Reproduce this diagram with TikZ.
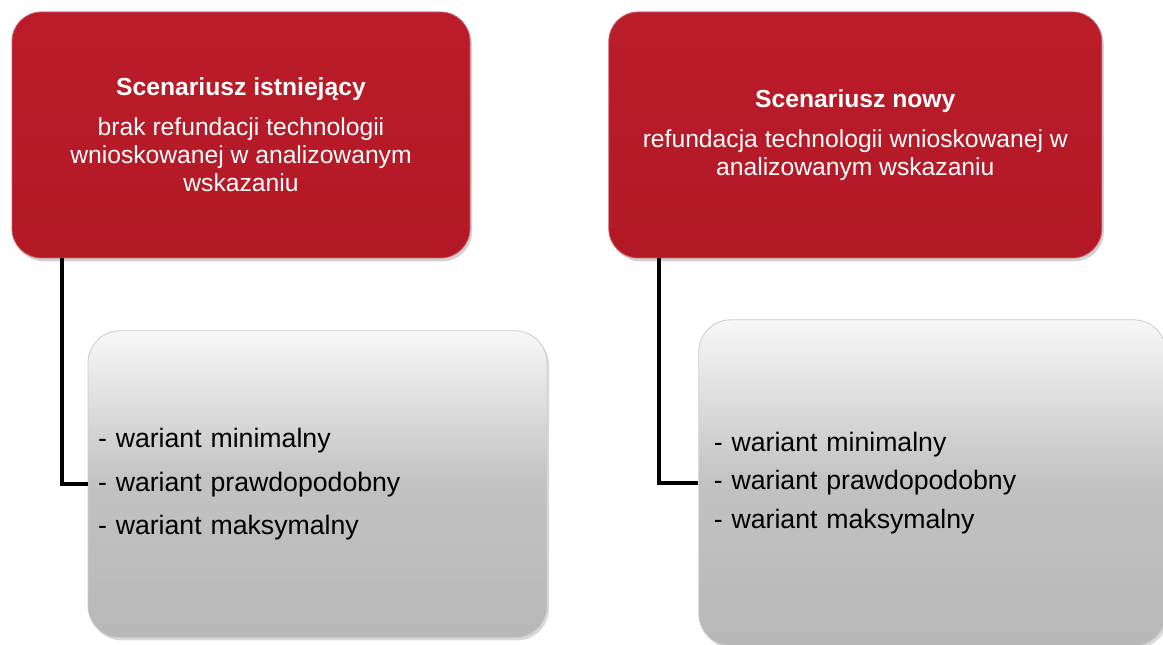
\documentclass[tikz,border=0pt]{standalone}
\usepackage{fontspec}
\setmainfont{Liberation Sans}
\usetikzlibrary{positioning, shadows}

\definecolor{scenred}{RGB}{179,24,37}
\definecolor{scenredtop}{RGB}{187,28,42}

\tikzset{
  scenbox/.style={rectangle, rounded corners=22pt, draw=scenred!70!white, line width=0.6pt,
    top color=scenredtop, bottom color=scenred, text=white, align=center,
    minimum height=184.5pt, inner sep=0pt,
    font=\fontsize{18.5}{21}\selectfont,
    drop shadow={opacity=0.35, shadow xshift=1.5pt, shadow yshift=-2.5pt}},
  varbox/.style={rectangle, rounded corners=24pt, draw=white!80!black, line width=0.6pt,
    top color=white!97!black, bottom color=white!72!black, middle color=white!76!black,
    align=left,
    drop shadow={opacity=0.3, shadow xshift=1.5pt, shadow yshift=-2pt}},
  link/.style={line width=3pt, black}
}

\begin{document}
\begin{tikzpicture}
      \useasboundingbox (0,0) rectangle (872.25pt,-483.75pt);

      \node[scenbox, minimum width=343.5pt] (EXIST) at (180.75pt,-101.25pt)
        {\textbf{Scenariusz istniejący}\\[9pt]brak refundacji technologii\\wnioskowanej w analizowanym\\wskazaniu};
      \node[scenbox, minimum width=369.75pt, right=103.5pt of EXIST] (NEW)
        {\textbf{Scenariusz nowy}\\[9pt]refundacja technologii wnioskowanej w\\analizowanym wskazaniu};

      \node[varbox, minimum height=230.25pt, inner xsep=7.5pt, text width=329.25pt,
        font=\fontsize{20}{32.5}\selectfont,
        below right=54pt and 57pt of EXIST.south west] (EXVAR)
        {- wariant minimalny\\- wariant prawdopodobny\\- wariant maksymalny};
      \node[varbox, minimum height=244.5pt, inner xsep=11.25pt, text width=327.75pt,
        font=\fontsize{20}{29}\selectfont,
        below right=45.75pt and 67.5pt of NEW.south west] (NEWVAR)
        {- wariant minimalny\\- wariant prawdopodobny\\- wariant maksymalny};

      \draw[link] ([xshift=37.5pt]EXIST.south west) |- (EXVAR.west);
      \draw[link] ([xshift=38.25pt]NEW.south west) |- (NEWVAR.west);
    
\end{tikzpicture}
\end{document}
